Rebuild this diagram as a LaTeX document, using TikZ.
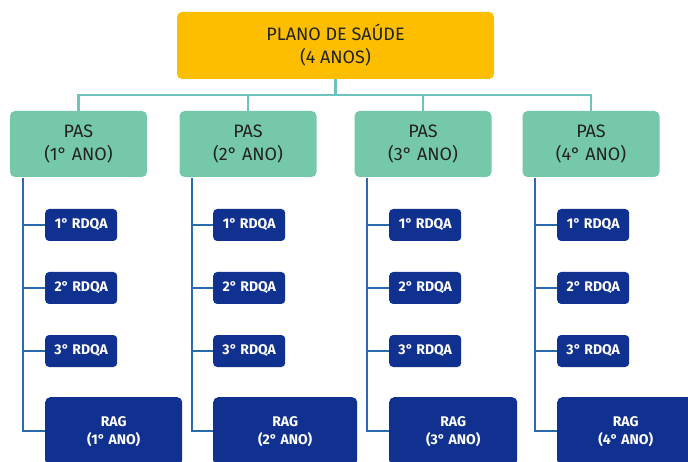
\documentclass[tikz,border=0pt]{standalone}
\usepackage{fontspec}
\setmainfont{Fira Sans}
\definecolor{topc}{HTML}{FDBE00}
\definecolor{pasc}{HTML}{75C9A8}
\definecolor{bluec}{HTML}{10318F}
\definecolor{tealc}{HTML}{6EC3C0}
\definecolor{linec}{HTML}{2A6BB0}
\definecolor{txtc}{HTML}{222222}
\begin{document}
\begin{tikzpicture}[x=1pt,y=-1pt,
  topbox/.style={fill=topc,rounded corners=5pt,minimum width=317pt,minimum height=67pt,align=center,text=txtc,font=\fontsize{18}{23}\selectfont,inner sep=0pt},
  pasbox/.style={fill=pasc,rounded corners=5pt,minimum width=137pt,minimum height=66pt,align=center,text=txtc,font=\fontsize{18}{23}\selectfont,inner sep=0pt},
  rdqa/.style={fill=bluec,rounded corners=4pt,minimum width=72pt,minimum height=32pt,text=white,font=\bfseries\fontsize{14}{16}\selectfont,inner sep=0pt,anchor=west},
  rag/.style={fill=bluec,rounded corners=5pt,minimum height=68pt,text=white,align=center,font=\bfseries\fontsize{14}{18}\selectfont,inner sep=0pt,anchor=north west},
  tline/.style={draw=tealc,line width=2.5pt},
  bline/.style={draw=linec,line width=2.5pt}]
\useasboundingbox (0,0) rectangle (688,462);
\clip (0,0) rectangle (688,462);
\node[topbox] (top) at (335.5,45.5) {PLANO DE SAÚDE\\(4 ANOS)};
\node[pasbox] (p1) at (78.5,144) {PAS\\(1° ANO)};
\node[pasbox] (p2) at (248,144) {PAS\\(2° ANO)};
\node[pasbox] (p3) at (423,144) {PAS\\(3° ANO)};
\node[pasbox] (p4) at (591,144) {PAS\\(4° ANO)};
\coordinate (hb) at (335.5,95);
\draw[tline] (top.south) -- (hb);
\draw[tline] (p1.north) |- (hb) -| (p4.north);
\draw[tline] (p2.north) -- (p2.north |- hb);
\draw[tline] (p3.north) -- (p3.north |- hb);
\foreach \i/\vx/\bx/\w in {1/23/45/137, 2/192/213/144, 3/367/389/128, 4/535/557/137}{
  \node[rdqa] (r\i a) at (\bx,225) {1° RDQA};
  \node[rdqa] (r\i b) at (\bx,288) {2° RDQA};
  \node[rdqa] (r\i c) at (\bx,351) {3° RDQA};
  \node[rag,minimum width=\w pt] (g\i) at (\bx,397) {RAG\\(\i° ANO)};
  \coordinate (v\i) at (\vx,178);
  \draw[bline] (v\i) |- ([yshift=-34pt]g\i.north west);
  \draw[bline] (v\i |- r\i a.west) -- (r\i a.west);
  \draw[bline] (v\i |- r\i b.west) -- (r\i b.west);
  \draw[bline] (v\i |- r\i c.west) -- (r\i c.west);
}
\end{tikzpicture}
\end{document}
